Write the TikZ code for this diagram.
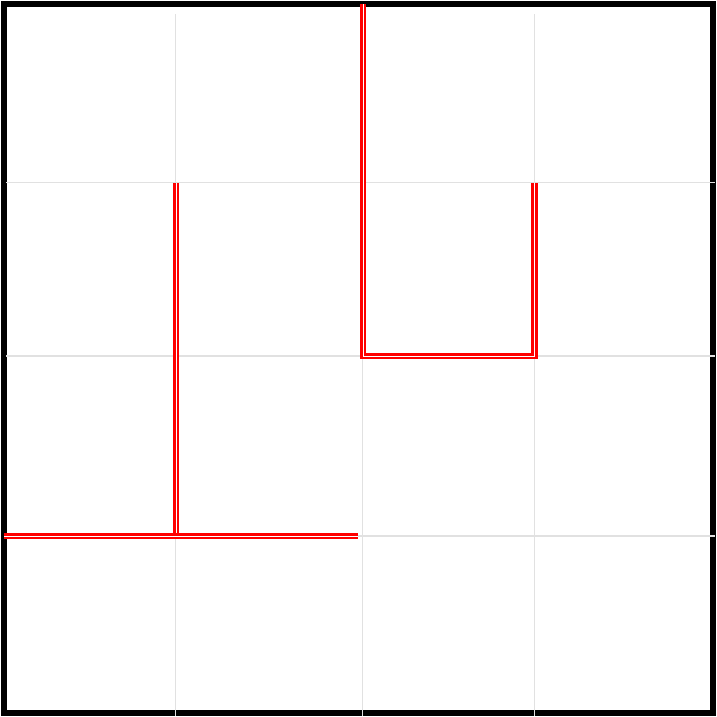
\documentclass[tikz,border=0pt]{standalone}
\usepackage{tikz}
\usetikzlibrary{calc}
\definecolor{gridgray}{RGB}{225,225,225}

\begin{document}
\begin{tikzpicture}[x=1pt,y=-1pt]
\tikzstyle{frame}=[draw=black, line width=6pt]
\tikzstyle{gridln}=[draw=gridgray, line width=1.2pt]
\tikzstyle{wall}=[draw=red, double=white, double distance=1pt, line width=2.6pt]
\useasboundingbox (0,0) rectangle (717,716);
\draw[frame] (4,4) rectangle (713,713);
\foreach \x in {175.5,362.5,534.5}{\draw[gridln] (\x,14) -- (\x,716);}
\foreach \y in {182.5,356,536}{\draw[gridln] (6,\y) -- (715,\y);}
\draw[wall] (363,4) -- (363,356) -- (534.5,356) -- (534.5,183);
\draw[wall] (176,183) -- (176,536);
\draw[wall] (4,536) -- (358,536);
\end{tikzpicture}
\end{document}
